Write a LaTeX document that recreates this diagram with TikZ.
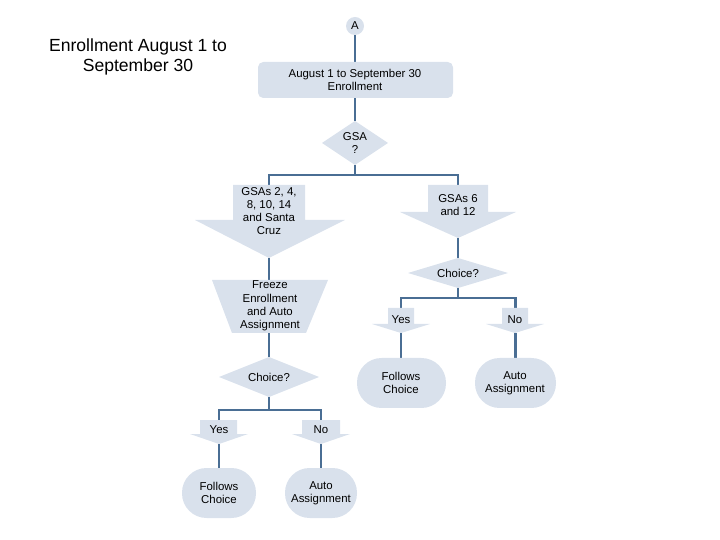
\documentclass[tikz,border=0pt]{standalone}
\usepackage{fontspec}
\setmainfont{Liberation Sans}
\definecolor{boxfill}{HTML}{D9E1EC}
\definecolor{linkblue}{HTML}{4A6E94}
\tikzset{
  shp/.style={fill=boxfill, draw=none},
  link/.style={draw=linkblue, line width=1.7pt},
  txt/.style={align=center, font=\fontsize{6.5}{7.5}\selectfont, inner sep=0pt}
}
\begin{document}
\begin{tikzpicture}[x=0.02cm,y=-0.02cm]
  \useasboundingbox (0,0) rectangle (720,540);

  % title
  \node[align=center, font=\fontsize{10}{11.5}\selectfont] (title) at (138,57) {Enrollment August 1 to\\September 30};

  % connectors
  \draw[link] (355,35) -- (355,62);
  \draw[link] (355,98) -- (355,121);
  \draw[link] (355,165) -- (355,175);
  \draw[link] (269,185) -- (269,175) -- (458,175) -- (458,185);
  \draw[link] (269,258) -- (269,280);
  \draw[link] (458,238) -- (458,258);
  \draw[link] (458,288) -- (458,298);
  \draw[link] (401,308) -- (401,298) -- (515,298) -- (515,308);
  \draw[link] (401,333) -- (401,358);
  \draw[link] (515,333) -- (515,358);
  \draw[link] (269,333) -- (269,357);
  \draw[link] (269,397) -- (269,410);
  \draw[link] (219,420) -- (219,410) -- (321,410) -- (321,420);
  \draw[link] (219,444) -- (219,468);
  \draw[link] (321,444) -- (321,468);

  % top
  \fill[shp] (355,26) circle (9);
  \node[txt] (a) at (355,26) {A};
  \fill[shp, rounded corners=3] (258,62) rectangle (453,98);
  \node[txt] (enroll) at (355,80) {August 1 to September 30\\Enrollment};
  \fill[shp] (355,121) -- (388,143) -- (355,165) -- (322,143) -- cycle;
  \node[txt] (gsa) at (355,143) {GSA\\?};

  % left branch
  \fill[shp] (233,185) -- (305,185) -- (305,220) -- (345,220) -- (269,258) -- (195,220) -- (233,220) -- cycle;
  \node[txt] (gsaleft) at (269,211) {GSAs 2, 4,\\8, 10, 14\\and Santa\\Cruz};
  \fill[shp] (212,280) -- (328,280) -- (306,333) -- (232,333) -- cycle;
  \node[txt] (freeze) at (270,306) {Freeze\\Enrollment\\and Auto\\Assignment};
  \fill[shp] (269,357) -- (319,377) -- (269,397) -- (219,377) -- cycle;
  \node[txt] (choiceleft) at (269,377) {Choice?};
  \fill[shp] (200,420) -- (237,420) -- (237,434) -- (248,434) -- (219,444) -- (190,434) -- (200,434) -- cycle;
  \node[txt] (yesleft) at (219,430) {Yes};
  \fill[shp] (302,420) -- (340,420) -- (340,434) -- (350,434) -- (321,444) -- (292,434) -- (302,434) -- cycle;
  \node[txt] (noleft) at (321,430) {No};
  \fill[shp, rounded corners=14] (182,468) rectangle (256,518);
  \node[txt] (followsleft) at (219,493) {Follows\\Choice};
  \fill[shp, rounded corners=14] (285,468) rectangle (357,518);
  \node[txt] (autoleft) at (321,493) {Auto\\Assignment};

  % right branch
  \fill[shp] (428,185) -- (488,185) -- (488,212) -- (516,212) -- (458,238) -- (400,212) -- (428,212) -- cycle;
  \node[txt] (gsaright) at (458,205) {GSAs 6\\and 12};
  \fill[shp] (458,258) -- (508,273) -- (458,288) -- (408,273) -- cycle;
  \node[txt] (choiceright) at (458,273) {Choice?};
  \fill[shp] (388,308) -- (414,308) -- (414,324) -- (430,324) -- (401,333) -- (372,324) -- (388,324) -- cycle;
  \node[txt] (yesright) at (401,320) {Yes};
  \fill[shp] (502,308) -- (528,308) -- (528,324) -- (544,324) -- (515,333) -- (486,324) -- (502,324) -- cycle;
  \node[txt] (noright) at (515,320) {No};
  \fill[shp, rounded corners=14] (357,358) rectangle (446,408);
  \node[txt] (followsright) at (401,383) {Follows\\Choice};
  \fill[shp, rounded corners=14] (475,358) rectangle (556,408);
  \node[txt] (autoright) at (515,383) {Auto\\Assignment};
\end{tikzpicture}
\end{document}
